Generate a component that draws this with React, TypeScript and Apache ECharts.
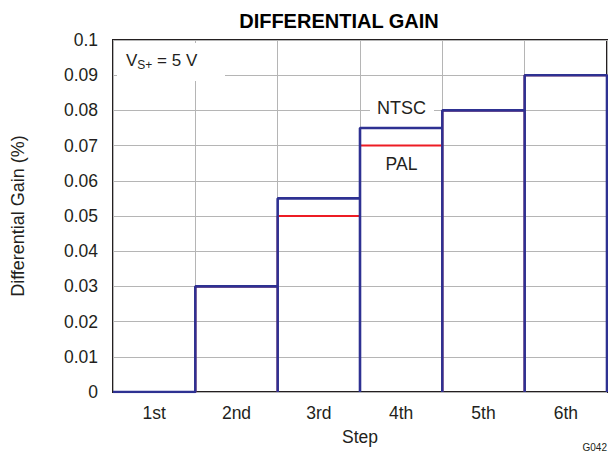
import React, { useEffect, useRef } from "react";
import * as echarts from "echarts";

const categories = ["1st", "2nd", "3rd", "4th", "5th", "6th"];
const ntscValues = [0, 0.03, 0.055, 0.075, 0.08, 0.09];
const palValues = [0, 0.03, 0.05, 0.07, 0.08, 0.09];
const yMin = 0;
const yMax = 0.1;
const yInterval = 0.01;

const FONT = "'Liberation Sans', Arial, Helvetica, sans-serif";
const TXT = "#231f20";

// Outline of each category's box: up the left side, across the top, down the right side.
function outline(values: number[]): number[][] {
  const pts: number[][] = [];
  values.forEach((v, i) => {
    pts.push([i, 0], [i, v], [i + 1, v], [i + 1, 0]);
  });
  return pts;
}

export default function App() {
  const ref = useRef<HTMLDivElement>(null);
  useEffect(() => {
    if (!ref.current) return;
    const chart = echarts.init(ref.current, undefined, { renderer: "svg" });
    chart.setOption({
      animation: false,
      backgroundColor: "#ffffff",
      grid: {
        left: 113,
        top: 40,
        right: 1,
        bottom: 60,
        show: true,
        borderColor: "#231f20",
        borderWidth: 2,
        backgroundColor: "transparent",
      },
      xAxis: [
        {
          type: "category",
          data: categories,
          boundaryGap: true,
          name: "Step",
          nameLocation: "middle",
          nameGap: 36,
          nameTextStyle: { fontFamily: FONT, fontSize: 17.5, color: TXT },
          axisLine: { show: false },
          axisTick: { show: false },
          axisLabel: { fontFamily: FONT, fontSize: 17.5, color: TXT, margin: 12 },
          splitLine: { show: true, lineStyle: { color: "#b5b5b5", width: 1 } },
        },
        {
          type: "value",
          min: 0,
          max: categories.length,
          show: false,
          splitLine: { show: false },
        },
      ],
      yAxis: {
        type: "value",
        min: yMin,
        max: yMax,
        interval: yInterval,
        name: "Differential Gain (%)",
        nameLocation: "middle",
        nameGap: 86,
        nameTextStyle: { fontFamily: FONT, fontSize: 18, color: TXT },
        axisLine: { show: false },
        axisTick: { show: false },
        axisLabel: {
          fontFamily: FONT,
          fontSize: 17.5,
          color: TXT,
          margin: 15,
          formatter: (v: number) => String(+v.toFixed(2)),
        },
        splitLine: { show: true, lineStyle: { color: "#b5b5b5", width: 1 } },
      },
      series: [
        {
          name: "PAL",
          type: "line",
          xAxisIndex: 1,
          data: outline(palValues),
          symbol: "none",
          lineStyle: { color: "#ed1c24", width: 2 },
          z: 3,
        },
        {
          name: "NTSC",
          type: "line",
          xAxisIndex: 1,
          data: outline(ntscValues),
          symbol: "none",
          lineStyle: { color: "#2e3192", width: 2.6 },
          z: 4,
        },
      ],
      graphic: [
        {
          type: "text",
          x: 339,
          y: 21,
          style: {
            text: "DIFFERENTIAL GAIN",
            fontFamily: FONT,
            fontSize: 20,
            fontWeight: "bold",
            fill: "#000",
            align: "center",
            verticalAlign: "middle",
          },
          z: 11,
        },
        {
          type: "rect",
          shape: { x: 117, y: 43, width: 108, height: 38 },
          style: { fill: "#ffffff" },
          z: 10,
        },
        {
          type: "text",
          x: 126,
          y: 50,
          style: {
            text: "{a|V}{b|S+}{a| = 5 V}",
            rich: {
              a: { fontFamily: FONT, fontSize: 17, fill: TXT },
              b: { fontFamily: FONT, fontSize: 12, fill: TXT, padding: [9, 0, 0, 0] },
            },
          },
          z: 11,
        },
        {
          type: "rect",
          shape: { x: 370, y: 99, width: 64, height: 22 },
          style: { fill: "#ffffff" },
          z: 10,
        },
        {
          type: "text",
          x: 401.5,
          y: 108,
          style: {
            text: "NTSC",
            fontFamily: FONT,
            fontSize: 18,
            fill: TXT,
            align: "center",
            verticalAlign: "middle",
          },
          z: 11,
        },
        {
          type: "text",
          x: 401.5,
          y: 164,
          style: {
            text: "PAL",
            fontFamily: FONT,
            fontSize: 17.5,
            fill: TXT,
            align: "center",
            verticalAlign: "middle",
          },
          z: 11,
        },
        {
          type: "text",
          x: 607,
          y: 447,
          style: {
            text: "G042",
            fontFamily: FONT,
            fontSize: 10,
            fill: TXT,
            align: "right",
            verticalAlign: "middle",
          },
          z: 11,
        },
      ],
    });
    return () => chart.dispose();
  }, []);
  return <div ref={ref} style={{ width: 608, height: 452, position: "absolute", left: 0, top: 0 }} />;
}
